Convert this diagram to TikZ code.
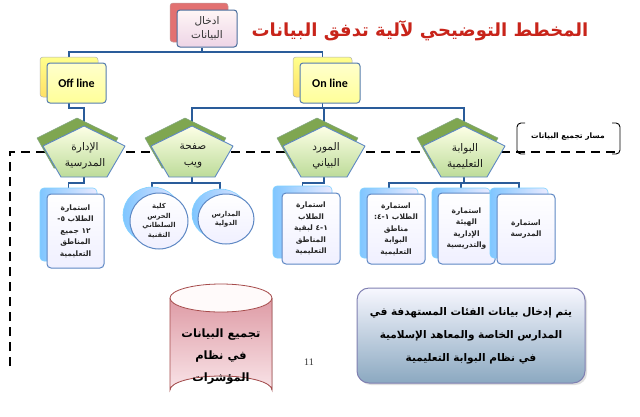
\documentclass[tikz,border=0pt]{standalone}
\usepackage{fontspec}
\usetikzlibrary{backgrounds,shapes.geometric,shadows}
\setmainfont{DejaVu Sans}
\newfontfamily\arfont[Script=Arabic]{DejaVu Sans}
\newfontfamily\latfont{Carlito}
\newfontfamily\numfont{Liberation Serif}
\TeXXeTstate=1
\newcommand{\AR}[1]{\beginR #1\endR}
\definecolor{conn}{HTML}{2A5C9A}
\definecolor{titlered}{HTML}{C8241A}
\definecolor{edgeblue}{HTML}{5E88C4}
\definecolor{cylTop}{HTML}{DE9BA5}
\definecolor{cylBot}{HTML}{F9E4E8}
\definecolor{pentDark}{HTML}{7FA650}
\begin{document}
\begin{tikzpicture}[x=1pt,y=-1pt,
  conn/.style={draw=conn,line width=1.8pt},
  dashline/.style={draw=black,line width=2.4pt,dash pattern=on 9pt off 6pt},
  boxnode/.style={inner sep=0pt,rounded corners=3pt},
  topback/.style={boxnode,fill=red!60!pink!85!black!75,draw=red!40!black!40,line width=0.5pt},
  topfront/.style={boxnode,top color=white!85!pink,bottom color=pink!45!violet!25,draw=edgeblue!80!black,line width=1pt,
    font=\arfont\fontsize{10.5}{14}\selectfont,align=center,text=black!80},
  yelback/.style={boxnode,top color=yellow!45,bottom color=yellow!60!orange!60,draw=gray!60,line width=0.5pt},
  yelfront/.style={boxnode,top color=yellow!20,bottom color=yellow!40,draw=conn!80,line width=1pt,
    font=\latfont\bfseries\fontsize{12}{14}\selectfont},
  pentback/.style={fill=pentDark,draw=green!30!black!50,line width=0.5pt,line join=round},
  pentfront/.style={top color=green!8!yellow!10,bottom color=green!30!olive!40,draw=edgeblue,line width=0.9pt,line join=round},
  penttext/.style={font=\arfont\fontsize{10.5}{16}\selectfont,align=center,text=black!90,inner sep=0pt},
  bluback/.style={boxnode,rounded corners=4pt,left color=blue!45!cyan!50,right color=blue!8,draw=blue!35!cyan!50,line width=0.6pt},
  blufront/.style={boxnode,rounded corners=4pt,top color=white,bottom color=blue!6,draw=edgeblue,line width=1pt,
    font=\arfont\bfseries\fontsize{7.5}{11.5}\selectfont,align=center,text=black!85},
  ellback/.style={ellipse,inner sep=0pt,left color=blue!45!cyan!50,right color=blue!10,draw=blue!35!cyan!50,line width=0.6pt},
  ellfront/.style={ellipse,inner sep=0pt,top color=white,bottom color=blue!6,draw=edgeblue,line width=1pt,
    font=\arfont\bfseries\fontsize{6.8}{9.5}\selectfont,align=center,text=black!85},
  pentshape/.pic={
    \draw[pentback] (-7,-33) -- (34,-13) -- (16,17) -- (-30,17) -- (-47,-13) -- cycle;
    \draw[pentfront] (0,-25) -- (41,-5) -- (23,26) -- (-23,26) -- (-41,-5) -- cycle;
  },
]
\useasboundingbox (0,0) rectangle (640,416);

% ---------- top input box and title
\node[topback,minimum width=58pt,minimum height=39pt] (inback) at (199,22.5) {};
\node[topfront,minimum width=60pt,minimum height=37pt] (input) at (207,28.5) {\AR{ادخال}\\\AR{البيانات}};
\node[font=\arfont\bfseries\fontsize{18}{20}\selectfont,text=titlered] (title) at (420,31) {\AR{المخطط التوضيحي لآلية تدفق البيانات}};

% ---------- Off line / On line
\node[yelback,minimum width=58pt,minimum height=40pt] (offback) at (69,77) {};
\node[yelfront,minimum width=59pt,minimum height=40pt] (offline) at (76.5,83) {Off line};
\node[yelback,minimum width=59pt,minimum height=40pt] (onback) at (322.5,77) {};
\node[yelfront,minimum width=60pt,minimum height=40pt] (online) at (330,83) {On line};

% ---------- pentagons
\pic at (84,151) {pentshape};
\coordinate (p1t) at (84,126); \coordinate (p1b) at (84,177);
\node[penttext] (p1) at (85,156) {\AR{الإدارة}\\\AR{المدرسية}};
\pic at (192,151) {pentshape};
\coordinate (p2t) at (192,126); \coordinate (p2b) at (192,177);
\node[penttext] (p2) at (193,156) {\AR{صفحة}\\\AR{ويب}};
\pic at (324,151) {pentshape};
\coordinate (p3t) at (324,126); \coordinate (p3b) at (324,177);
\node[penttext] (p3) at (326,156) {\AR{المورد}\\\AR{البياني}};
\pic at (464,151) {pentshape};
\coordinate (p4t) at (464,126); \coordinate (p4b) at (464,177);
\node[penttext] (p4) at (465,156) {\AR{البوابة}\\\AR{التعليمية}};

% ---------- stacked blue boxes
\node[bluback,minimum width=57pt,minimum height=73pt] (b1back) at (68.5,224.5) {};
\node[blufront,minimum width=57pt,minimum height=74pt] (b1) at (75.5,231) {\AR{استمارة}\\\AR{الطلاب ٥-}\\\AR{١٢ جميع}\\\AR{المناطق}\\\AR{التعليمية}};

\node[bluback,minimum width=59pt,minimum height=72pt] (b3back) at (302.5,222) {};
\node[blufront,minimum width=58pt,minimum height=71pt] (b3) at (311,228.5) {\AR{استمارة}\\\AR{الطلاب}\\\AR{١-٤ لبقية}\\\AR{المناطق}\\\AR{التعليمية}};

\node[bluback,minimum width=58pt,minimum height=70pt] (b4aback) at (389,223) {};
\node[blufront,minimum width=58pt,minimum height=70pt] (b4a) at (396,229) {\AR{استمارة}\\\AR{الطلاب ١-٤:}\\\AR{مناطق}\\\AR{البوابة}\\\AR{التعليمية}};

\node[bluback,minimum width=58pt,minimum height=70pt] (b4bback) at (461,223) {};
\node[blufront,minimum width=57pt,minimum height=71pt] (b4b) at (466.5,228.5) {\AR{استمارة}\\\AR{الهيئة}\\\AR{الإدارية}\\\AR{والتدريسية}};

\node[bluback,minimum width=58pt,minimum height=70pt] (b4cback) at (519,223) {};
\node[blufront,minimum width=58pt,minimum height=70pt] (b4c) at (526,229) {\AR{استمارة}\\\AR{المدرسة}};

% ---------- ellipses
\node[ellback,minimum width=58pt,minimum height=56pt] (e1back) at (152,215) {};
\node[ellfront,minimum width=58pt,minimum height=56pt] (e1) at (159,221) {\AR{كلية}\\\AR{الحرس}\\\AR{السلطاني}\\\AR{التقنية}};
\node[ellback,minimum width=56pt,minimum height=50pt] (e2back) at (220,214) {};
\node[ellfront,minimum width=56pt,minimum height=50pt] (e2) at (226,219) {\AR{المدارس}\\\AR{الدولية}};

% ---------- cylinder
\fill[top color=cylTop,bottom color=cylBot] (170,298) -- (170,390) arc[start angle=180,end angle=360,x radius=51,y radius=14] -- (272,298) -- cycle;
\draw[draw=red!50!black!70,line width=0.8pt] (170,298) -- (170,390) arc[start angle=180,end angle=360,x radius=51,y radius=14] -- (272,298);
\draw[draw=red!50!black!70,line width=0.8pt,fill=pink!8] (221,298) ellipse[x radius=51,y radius=14];
\node[font=\arfont\bfseries\fontsize{11.5}{22}\selectfont,align=center,text=black] (db) at (221,357) {\AR{تجميع البيانات}\\\AR{في نظام}\\\AR{المؤشرات}};

\node[font=\numfont\fontsize{10}{11}\selectfont,text=black!80] (pg) at (309,362) {11};

% ---------- note box
\node[boxnode,rounded corners=12pt,minimum width=228pt,minimum height=95pt,top color=blue!3,bottom color=blue!45!cyan!30!gray!70,
  draw=blue!25!gray!80,line width=1pt,drop shadow={opacity=0.25,shadow xshift=2pt,shadow yshift=-2pt},
  font=\arfont\bfseries\fontsize{10.5}{23}\selectfont,align=center,text=black] (note) at (471,335.5)
  {\AR{يتم إدخال بيانات الفئات المستهدفة في}\\\AR{المدارس الخاصة والمعاهد الإسلامية}\\\AR{في نظام البوابة التعليمية}};

% ---------- bracket label
\node[font=\arfont\bfseries\fontsize{7.5}{9}\selectfont,text=black] (lbl) at (568,137) {\AR{مسار تجميع البيانات}};
\draw[line width=0.9pt,rounded corners=4pt] (525,123) -- (517,123) -- (517,154) -- (525,154);
\draw[line width=0.9pt,rounded corners=4pt] (612,123) -- (620,123) -- (620,154) -- (612,154);

% ---------- background: connectors and dashed path
\begin{scope}[on background layer]
  \fill[white] (0,0) rectangle (640,416);
  \coordinate (tj) at (202,52);
  \coordinate (lvl1) at (0,108);
  \coordinate (lvl2) at (0,183);
  \coordinate (dl) at (10,366);
  \coordinate (dc) at (10,152);
  \coordinate (dr) at (617,152);
  \draw[dashline] (dl) -- (dc) -- (dr);
  \draw[conn] (tj |- input.south) -- (tj);
  \draw[conn] (offback.north) |- (tj) -| (onback.north);
  \draw[conn] (offback.south) -- (offback.south |- lvl1) -| (p1t);
  \draw[conn] (onback.south) -- (onback.south |- lvl1);
  \draw[conn] (p2t) |- (p4t |- lvl1) -- (p4t);
  \draw[conn] (p3t |- lvl1) -- (p3t);
  \draw[conn] (p1b) -- (p1b |- lvl2) -| (b1back.north);
  \draw[conn] (p2b) -- (p2b |- lvl2);
  \draw[conn] (e1back.north) |- (e2back.north |- lvl2) -- (e2back.north);
  \draw[conn] (p3b) -- (p3b |- lvl2) -| (b3back.north);
  \draw[conn] (p4b) -- (p4b |- lvl2);
  \draw[conn] (b4aback.north) |- (b4cback.north |- lvl2) -- (b4cback.north);
  \draw[conn] (b4bback.north) -- (b4bback.north |- lvl2);
\end{scope}
\end{tikzpicture}
\end{document}
